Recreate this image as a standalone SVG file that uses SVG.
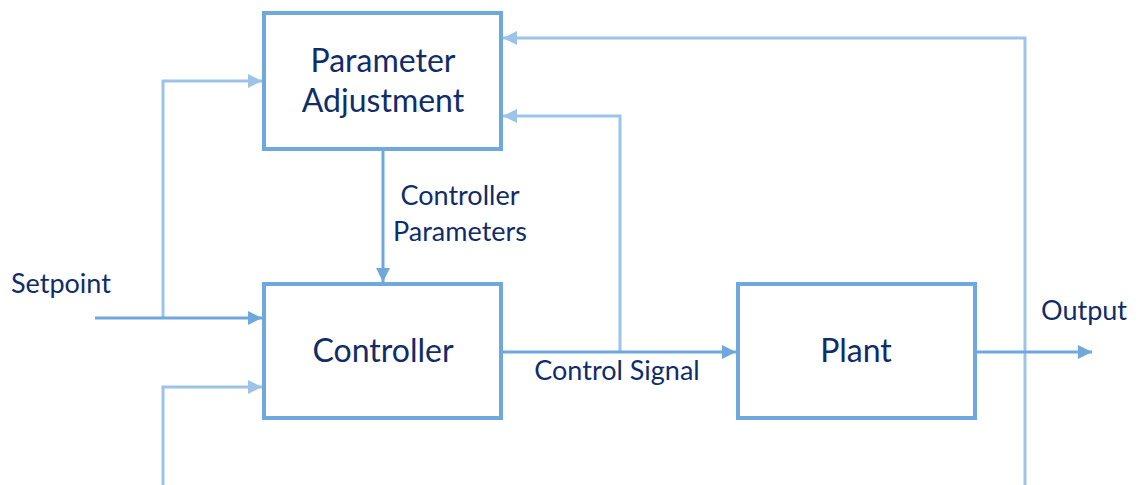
<svg xmlns="http://www.w3.org/2000/svg" width="1139" height="485" viewBox="0 0 1139 485">
<style>
.box{fill:#fff;stroke:#6FA8DC;stroke-width:4}
.c{fill:none;stroke:#6FA8DC;stroke-width:3}
.l{fill:none;stroke:#9DC3E6;stroke-width:3}
text{font-family:Lato,"Liberation Sans",sans-serif;font-size:27px;fill:#0F2D69}
.m{text-anchor:middle}
.b{font-size:32px}
</style>
<defs>
<marker id="ad" markerWidth="14" markerHeight="14" refX="14" refY="7" orient="auto" markerUnits="userSpaceOnUse"><path d="M0,0 L14,7 L0,14 Z" fill="#6FA8DC"/></marker>
<marker id="al" markerWidth="14" markerHeight="14" refX="14" refY="7" orient="auto" markerUnits="userSpaceOnUse"><path d="M0,0 L14,7 L0,14 Z" fill="#9DC3E6"/></marker>
</defs>
<rect width="1139" height="485" fill="#fff"/>
<g id="connectors">
<path class="l" d="M163,318 V81 H262" marker-end="url(#al)"/>
<path class="l" d="M163,485 V387 H262" marker-end="url(#al)"/>
<path class="l" d="M620,352 V116 H503" marker-end="url(#al)"/>
<path class="l" d="M1025,485 V38 H503" marker-end="url(#al)"/>
<path class="c" d="M95,318 H262" marker-end="url(#ad)"/>
<path class="c" d="M383,151 V282" marker-end="url(#ad)"/>
<path class="c" d="M503,352 H736" marker-end="url(#ad)"/>
<path class="c" d="M977,352 H1092" marker-end="url(#ad)"/>
<text x="11" y="293">Setpoint</text>
<text x="460" y="205" class="m">Controller</text>
<text x="460" y="241" class="m">Parameters</text>
<text x="617" y="380" class="m">Control Signal</text>
<text x="1084" y="320" class="m">Output</text>
</g>
<g id="param">
<rect class="box" x="264" y="13" width="237" height="136"/>
<text x="383" y="72" class="m b">Parameter</text>
<text x="383" y="112" class="m b">Adjustment</text>
</g>
<g id="controller">
<rect class="box" x="264" y="284" width="237" height="134"/>
<text x="383" y="362" class="m b">Controller</text>
</g>
<g id="plant">
<rect class="box" x="738" y="284" width="237" height="134"/>
<text x="856" y="362" class="m b">Plant</text>
</g>
</svg>
